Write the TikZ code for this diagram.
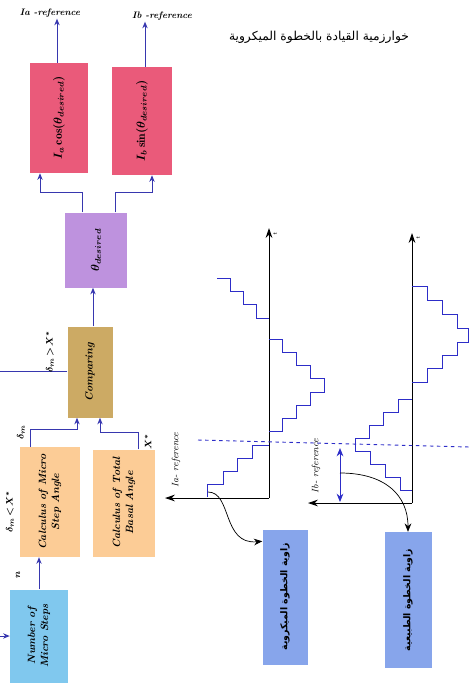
\documentclass[tikz,border=0pt]{standalone}
\usepackage{fontspec}
\usepackage{amsmath}
\usetikzlibrary{arrows.meta,calc,positioning}
\newfontfamily\arabicfont[Script=Arabic]{DejaVu Sans}
\TeXXeTstate=1
\definecolor{redbox}{RGB}{234,90,122}
\definecolor{purplebox}{RGB}{190,146,222}
\definecolor{goldbox}{RGB}{204,170,100}
\definecolor{orangebox}{RGB}{252,204,150}
\definecolor{cyanbox}{RGB}{128,200,238}
\definecolor{bluebox}{RGB}{135,165,235}
\definecolor{connblue}{RGB}{55,55,175}
\definecolor{stairblue}{RGB}{45,45,200}

\begin{document}
\begin{tikzpicture}[x=0.3mm,y=-0.3mm,
    blk/.style={fill=#1, inner sep=0pt, font=\bfseries\itshape\boldmath\small},
    conn/.style={connblue, thick, -{Stealth[length=2mm,width=1.6mm]}},
    line/.style={connblue, thick},
    lbl/.style={font=\bfseries\itshape\boldmath\footnotesize, inner sep=1pt},
    axis/.style={black, thick, -{Stealth[length=3mm,width=2mm]}},
    stair/.style={stairblue, semithick},
    curv/.style={black, semithick, -{Stealth[length=2.5mm,width=2mm]}}]
    \useasboundingbox (0,0) rectangle (469,686);

    % title
    \node (title) at (319,37) {\arabicfont\fontsize{10.5}{12}\selectfont\beginR خوارزمية القيادة بالخطوة الميكروية\endR};

    % current references
    \node[blk=redbox, minimum width=17.4mm, minimum height=33mm] (redA) at (59,118) {\rotatebox{90}{\normalsize$I_a\cos(\theta_{desired})$}};
    \node[blk=redbox, minimum width=18mm, minimum height=32.4mm] (redB) at (142,121) {\rotatebox{90}{\normalsize$I_b\sin(\theta_{desired})$}};
    \node[lbl] (iaref) at (50,13) {Ia -reference};
    \node[lbl] (ibref) at (162,16) {Ib -reference};
    \draw[conn] (redA.north -| 57,0) -- (57,0 |- iaref.south);
    \draw[conn] (redB.north -| 145,0) -- (145,0 |- ibref.south);

    % angle blocks
    \node[blk=purplebox, minimum width=18.6mm, minimum height=22.5mm] (theta) at (96,250) {\rotatebox{90}{\normalsize$\theta_{desired}$}};
    \node[blk=goldbox, minimum width=13.5mm, minimum height=27.3mm] (comp) at (90,372) {\rotatebox{90}{Comparing}};
    \node[blk=orangebox, minimum width=17.7mm, minimum height=31.5mm] (calcA) at (50,502) {\rotatebox{90}{\begin{tabular}{c}Calculus of Micro\\ Step Angle\end{tabular}}};
    \node[blk=orangebox, minimum width=18.6mm, minimum height=32.1mm] (calcB) at (124,503) {\rotatebox{90}{\begin{tabular}{c}Calculus of Total\\ Basal Angle\end{tabular}}};
    \node[blk=cyanbox, minimum width=17.4mm, minimum height=27.9mm] (num) at (39,636) {\rotatebox{90}{\begin{tabular}{c}Number of\\ Micro Steps\end{tabular}}};

    \draw[conn] ([xshift=-4.2mm]theta.north) -- ++(0,-20) -| ([xshift=-5.7mm]redA.south);
    \draw[conn] ([xshift=5.7mm]theta.north) -- ++(0,-20) -| ([xshift=3mm]redB.south);
    \draw[conn] ([xshift=0.9mm]comp.north) -- ([xshift=-0.9mm]theta.south);
    \draw[conn] ([xshift=-6mm]calcA.north) -- ++(0,-17) -| ([xshift=-3.9mm]comp.south);
    \draw[conn] ([xshift=4.2mm]calcB.north) -- ++(0,-17) -| ([xshift=3mm]comp.south);
    \draw[conn] (num.north) -- (num.north |- calcA.south);
    \coordinate (cmpout) at (0,371);
    \coordinate (numin) at (0,636);
    \draw[line] (comp.west |- cmpout) -- (cmpout);
    \draw[conn] (numin) -- (num.west |- numin);

    \node[lbl, rotate=90] (gtlbl) at (50,352) {$\delta_m\!>\!X^{*}$};
    \node[lbl, rotate=90] (ltlbl) at (10,512) {$\delta_m\!<\!X^{*}$};
    \node[lbl, rotate=90] (dmlbl) at (21,432) {$\delta_m$};
    \node[lbl, rotate=90] (xlbl) at (148,442) {$X^{*}$};
    \node[lbl, rotate=90] (nlbl) at (18,575) {$n$};

    % micro step graph
    \draw[axis] (269,498) -- (269,228);
    \draw[axis] (269,498) -- (165,498);
    \node[font=\tiny, rotate=90] (t1) at (275,234) {$t$};
    \node[font=\itshape\footnotesize, rotate=90] (ialbl) at (176,460) {Ia- reference};
    \draw[stair] (207,497) |- (223,484) |- (237,471) |- (252,458) |- (269,445);
    \draw[stair] (269,431) -- (282,431) |- (296,418) |- (310,405) |- (324,392) -- (324,378)
        -| (310,365) -| (296,352) -| (282,339) -- (269,339);
    \draw[stair] (269,318) -| (256,304) -| (243,291) -| (230,278) -- (217,278);

    % natural step graph
    \draw[axis] (412,503) -- (412,233);
    \draw[axis] (412,503) -- (308,503);
    \node[font=\tiny, rotate=90] (t2) at (418,238) {$t$};
    \node[font=\itshape\footnotesize, rotate=90] (iblbl) at (316,466) {Ib- reference};
    \draw[stair] (412,490) -- (400,490) |- (385,477) |- (370,464) |- (355,451) -- (355,438)
        -| (369,425) -| (383,412) -| (398,399) -- (412,399);
    \draw[stair] (412,382) -- (427,382) |- (442,368) |- (457,355) |- (468,342) -- (468,328)
        -| (457,314) -| (442,300) -| (427,286) -- (412,286);

    \draw[stairblue, thick, dashed] (198,440) -- (469,447);
    \draw[stairblue, thick, {Stealth[length=2.5mm,width=2mm]}-{Stealth[length=2.5mm,width=2mm]}] (340,448) -- (340,502);

    % angle names
    \node[fill=bluebox, minimum width=13.5mm, minimum height=40.5mm, inner sep=0pt] (blueA) at (285,597)
        {\rotatebox{90}{\arabicfont\bfseries\fontsize{8}{10}\selectfont\beginR زاوية الخطوة الميكروية\endR}};
    \node[fill=bluebox, minimum width=14.1mm, minimum height=40.8mm, inner sep=0pt] (blueB) at (408,600)
        {\rotatebox{90}{\arabicfont\bfseries\fontsize{8}{10}\selectfont\beginR زاوية الخطوة الطبيعية\endR}};
    \coordinate (s1) at (208,492);
    \coordinate (s2) at (340,473);
    \draw[curv] (s1) .. controls (232,492) and (222,545) .. ([yshift=-3.6mm]blueA.north west);
    \draw[curv] (s2) .. controls (385,473) and (408,495) .. (blueB.north);
\end{tikzpicture}
\end{document}
